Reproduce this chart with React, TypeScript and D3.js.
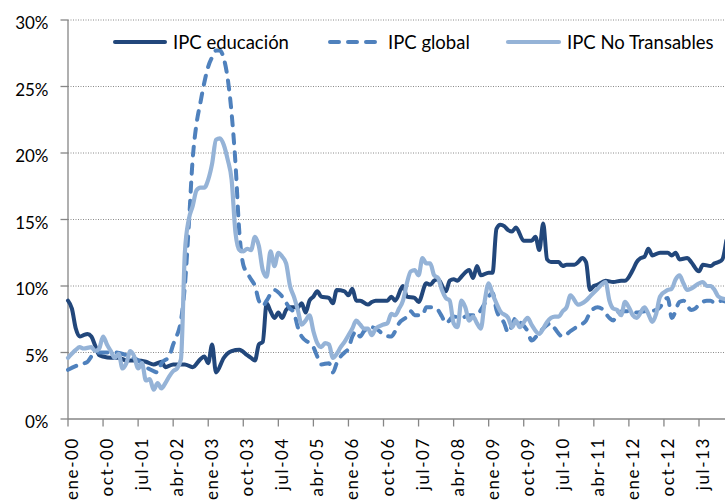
import React from "react";
import * as d3 from "d3";

// ---------- DATA ----------
const seriesNames = ["IPC educación", "IPC global", "IPC No Transables"];

const eduData: [string, number][] = [
  ["2000-01", 8.9], ["2000-02", 8.3], ["2000-03", 6.8], ["2000-04", 6.2], ["2000-05", 6.3], ["2000-06", 6.4],
  ["2000-07", 6.2], ["2000-08", 5.5], ["2000-09", 4.8], ["2000-10", 4.7], ["2000-12", 4.6], ["2001-02", 4.6],
  ["2001-04", 4.4], ["2001-07", 4.4], ["2001-09", 4.3], ["2001-11", 4.1], ["2002-01", 4.3], ["2002-02", 3.9],
  ["2002-04", 4.1], ["2002-07", 4.1], ["2002-09", 3.9], ["2002-11", 4.5], ["2002-12", 4.7], ["2003-01", 4.2],
  ["2003-02", 5.6], ["2003-03", 3.5], ["2003-05", 4.6], ["2003-07", 5.1], ["2003-09", 5.2], ["2003-11", 4.8],
  ["2003-12", 4.6], ["2004-01", 4.4], ["2004-02", 5.6], ["2004-03", 5.8], ["2004-04", 8.7], ["2004-05", 8.1],
  ["2004-06", 7.6], ["2004-07", 8.0], ["2004-08", 7.6], ["2004-09", 8.2], ["2004-10", 8.4], ["2004-12", 8.4],
  ["2005-01", 8.7], ["2005-02", 8.0], ["2005-03", 8.9], ["2005-04", 9.2], ["2005-05", 9.6], ["2005-06", 9.2],
  ["2005-08", 9.1], ["2005-09", 8.7], ["2005-10", 9.7], ["2005-12", 9.6], ["2006-01", 9.3], ["2006-02", 9.8],
  ["2006-03", 8.9], ["2006-04", 8.9], ["2006-06", 8.6], ["2006-07", 8.8], ["2006-08", 8.9], ["2006-10", 8.9],
  ["2006-11", 8.9], ["2006-12", 9.2], ["2007-01", 8.9], ["2007-03", 10.0], ["2007-04", 9.2], ["2007-06", 9.1],
  ["2007-07", 8.8], ["2007-09", 10.2], ["2007-10", 10.1], ["2007-11", 10.4], ["2007-12", 10.5], ["2008-02", 9.6],
  ["2008-03", 10.4], ["2008-04", 10.5], ["2008-05", 10.4], ["2008-06", 10.7], ["2008-08", 11.2], ["2008-09", 10.6],
  ["2008-10", 11.5], ["2008-11", 10.8], ["2009-01", 11.0], ["2009-02", 11.0], ["2009-03", 14.3], ["2009-04", 14.6],
  ["2009-05", 14.5], ["2009-06", 14.2], ["2009-07", 14.1], ["2009-08", 14.4], ["2009-10", 13.4], ["2009-12", 13.4],
  ["2010-01", 13.7], ["2010-02", 12.7], ["2010-03", 14.7], ["2010-04", 12.0], ["2010-05", 11.8], ["2010-07", 11.8],
  ["2010-08", 11.5], ["2010-09", 11.6], ["2010-11", 11.6], ["2010-12", 11.8], ["2011-01", 12.1], ["2011-02", 11.8],
  ["2011-03", 9.7], ["2011-04", 10.0], ["2011-05", 10.1], ["2011-07", 10.4], ["2011-09", 10.3], ["2011-11", 10.4],
  ["2011-12", 10.4], ["2012-02", 11.2], ["2012-03", 11.8], ["2012-04", 12.1], ["2012-05", 12.2], ["2012-06", 12.8],
  ["2012-07", 12.3], ["2012-09", 12.5], ["2012-11", 12.5], ["2012-12", 12.3], ["2013-01", 12.5], ["2013-02", 12.0],
  ["2013-04", 12.1], ["2013-05", 11.8], ["2013-07", 11.1], ["2013-08", 11.6], ["2013-10", 11.5], ["2013-11", 11.7],
  ["2013-12", 11.8], ["2014-01", 12.0], ["2014-02", 13.4],
];

const globalData: [string, number][] = [
  ["2000-01", 3.7], ["2000-04", 4.1], ["2000-06", 4.3], ["2000-07", 4.7], ["2000-09", 5.0], ["2001-01", 5.0],
  ["2001-04", 4.8], ["2001-07", 4.4], ["2001-09", 3.9], ["2001-11", 3.6], ["2001-12", 3.5], ["2002-01", 4.2],
  ["2002-03", 4.7], ["2002-04", 5.6], ["2002-05", 6.3], ["2002-06", 7.4], ["2002-07", 10.0], ["2002-08", 14.5],
  ["2002-09", 19.5], ["2002-10", 22.2], ["2002-11", 23.8], ["2002-12", 25.3], ["2003-01", 26.5], ["2003-02", 27.2],
  ["2003-03", 27.7], ["2003-04", 27.7], ["2003-05", 27.1], ["2003-06", 25.6], ["2003-07", 23.0], ["2003-08", 19.2],
  ["2003-09", 14.0], ["2003-10", 11.6], ["2003-11", 11.0], ["2003-12", 10.5], ["2004-01", 10.0], ["2004-02", 8.9],
  ["2004-03", 8.5], ["2004-04", 8.9], ["2004-05", 9.4], ["2004-06", 9.7], ["2004-08", 9.2], ["2004-10", 8.3],
  ["2004-11", 8.0], ["2004-12", 6.9], ["2005-01", 6.2], ["2005-03", 5.7], ["2005-04", 5.4], ["2005-05", 4.7],
  ["2005-06", 4.1], ["2005-08", 4.2], ["2005-09", 3.5], ["2005-10", 4.2], ["2005-11", 4.7], ["2005-12", 5.0],
  ["2006-01", 5.3], ["2006-02", 6.2], ["2006-03", 6.6], ["2006-04", 6.2], ["2006-05", 6.6], ["2006-07", 6.9],
  ["2006-09", 6.6], ["2006-10", 6.3], ["2006-12", 6.2], ["2007-01", 6.6], ["2007-02", 7.2], ["2007-04", 7.7],
  ["2007-05", 8.1], ["2007-06", 7.8], ["2007-08", 7.8], ["2007-09", 8.4], ["2007-11", 8.4], ["2007-12", 8.2],
  ["2008-01", 7.7], ["2008-02", 7.2], ["2008-04", 7.7], ["2008-06", 7.6], ["2008-08", 7.8], ["2008-10", 7.8],
  ["2008-11", 8.2], ["2008-12", 8.7], ["2009-01", 9.2], ["2009-02", 9.5], ["2009-03", 8.2], ["2009-05", 7.2],
  ["2009-06", 6.5], ["2009-08", 7.6], ["2009-09", 7.3], ["2009-11", 6.6], ["2009-12", 5.9], ["2010-02", 6.5],
  ["2010-05", 7.2], ["2010-06", 6.8], ["2010-08", 6.2], ["2010-10", 6.6], ["2010-12", 7.0], ["2011-02", 7.4],
  ["2011-03", 8.0], ["2011-05", 8.4], ["2011-06", 8.3], ["2011-08", 7.6], ["2011-09", 7.4], ["2011-10", 8.0],
  ["2011-12", 8.1], ["2012-01", 8.1], ["2012-03", 8.0], ["2012-05", 8.1], ["2012-06", 8.1], ["2012-08", 8.2],
  ["2012-09", 8.4], ["2012-10", 8.9], ["2012-11", 9.1], ["2012-12", 7.6], ["2013-02", 8.8], ["2013-03", 8.9],
  ["2013-05", 8.2], ["2013-06", 8.3], ["2013-07", 8.6], ["2013-09", 8.9], ["2013-10", 8.9], ["2013-11", 8.7],
  ["2014-01", 8.9], ["2014-02", 8.8],
];

const noTransData: [string, number][] = [
  ["2000-01", 4.6], ["2000-03", 5.2], ["2000-04", 5.4], ["2000-05", 5.3], ["2000-07", 5.4], ["2000-08", 5.1],
  ["2000-09", 5.3], ["2000-10", 6.2], ["2000-11", 5.6], ["2000-12", 5.1], ["2001-01", 4.6], ["2001-02", 4.9],
  ["2001-03", 3.8], ["2001-04", 4.2], ["2001-05", 5.1], ["2001-06", 4.7], ["2001-07", 3.8], ["2001-08", 4.2],
  ["2001-09", 2.9], ["2001-10", 3.0], ["2001-11", 2.2], ["2001-12", 2.7], ["2002-01", 2.3], ["2002-02", 2.7],
  ["2002-03", 3.2], ["2002-04", 3.6], ["2002-05", 3.8], ["2002-06", 4.5], ["2002-07", 12.5], ["2002-08", 15.0],
  ["2002-09", 16.0], ["2002-10", 17.2], ["2002-11", 17.4], ["2002-12", 17.4], ["2003-01", 18.0], ["2003-02", 19.2],
  ["2003-03", 21.0], ["2003-04", 21.1], ["2003-05", 20.6], ["2003-06", 19.5], ["2003-07", 18.0], ["2003-08", 14.0],
  ["2003-09", 12.7], ["2003-10", 12.6], ["2003-11", 12.8], ["2003-12", 12.7], ["2004-01", 13.7], ["2004-02", 13.0],
  ["2004-03", 11.2], ["2004-04", 10.7], ["2004-05", 12.6], ["2004-06", 11.5], ["2004-07", 12.5], ["2004-08", 12.2],
  ["2004-09", 11.7], ["2004-10", 10.0], ["2004-11", 9.2], ["2004-12", 8.2], ["2005-01", 7.1], ["2005-02", 7.4],
  ["2005-03", 7.8], ["2005-04", 6.6], ["2005-05", 5.7], ["2005-06", 5.4], ["2005-07", 5.7], ["2005-08", 5.6],
  ["2005-09", 4.6], ["2005-10", 4.9], ["2005-11", 5.4], ["2005-12", 5.8], ["2006-01", 6.3], ["2006-02", 6.8],
  ["2006-03", 7.4], ["2006-04", 7.1], ["2006-05", 6.8], ["2006-06", 6.8], ["2006-07", 6.3], ["2006-08", 6.8],
  ["2006-10", 7.1], ["2006-11", 7.2], ["2006-12", 7.9], ["2007-01", 7.8], ["2007-02", 8.3], ["2007-03", 8.9],
  ["2007-04", 10.2], ["2007-05", 11.1], ["2007-06", 11.2], ["2007-07", 10.8], ["2007-08", 12.1], ["2007-09", 11.7],
  ["2007-10", 11.7], ["2007-11", 10.8], ["2007-12", 10.6], ["2008-01", 9.7], ["2008-02", 9.1], ["2008-03", 8.9],
  ["2008-04", 7.2], ["2008-05", 6.9], ["2008-06", 8.9], ["2008-07", 8.4], ["2008-08", 7.4], ["2008-09", 7.7],
  ["2008-10", 7.2], ["2008-11", 6.8], ["2008-12", 8.9], ["2009-01", 10.2], ["2009-02", 9.4], ["2009-03", 8.7],
  ["2009-04", 8.1], ["2009-06", 7.6], ["2009-07", 6.9], ["2009-08", 7.4], ["2009-09", 6.9], ["2009-11", 7.6],
  ["2009-12", 7.1], ["2010-02", 6.4], ["2010-03", 6.8], ["2010-04", 7.3], ["2010-06", 7.7], ["2010-07", 7.7],
  ["2010-08", 8.1], ["2010-09", 8.4], ["2010-10", 9.3], ["2010-12", 8.6], ["2011-02", 8.9], ["2011-03", 9.2],
  ["2011-05", 9.8], ["2011-07", 10.3], ["2011-08", 8.9], ["2011-09", 8.3], ["2011-10", 8.2], ["2011-11", 7.8],
  ["2011-12", 8.8], ["2012-01", 8.4], ["2012-02", 7.8], ["2012-03", 7.6], ["2012-05", 8.4], ["2012-06", 7.9],
  ["2012-07", 7.3], ["2012-08", 7.9], ["2012-09", 9.2], ["2012-11", 9.7], ["2012-12", 9.8], ["2013-01", 10.5],
  ["2013-02", 10.8], ["2013-03", 10.2], ["2013-04", 9.7], ["2013-05", 9.8], ["2013-07", 10.2], ["2013-08", 10.3],
  ["2013-09", 10.0], ["2013-10", 10.0], ["2013-11", 9.7], ["2013-12", 9.2], ["2014-02", 9.0],
];

const yTicks = [0, 5, 10, 15, 20, 25, 30];
const xTickLabels = [
  "ene-00", "oct-00", "jul-01", "abr-02", "ene-03", "oct-03", "jul-04", "abr-05", "ene-06", "oct-06",
  "jul-07", "abr-08", "ene-09", "oct-09", "jul-10", "abr-11", "ene-12", "oct-12", "jul-13",
];
const xTickStepMonths = 9;

// ---------- STYLE ----------
const W = 725;
const H = 503;
const FONT = "Lato, 'Open Sans', sans-serif";
const colors = ["#22477b", "#4f81bd", "#95b3d7"];
const axisColor = "#868686";

const monthIndex = (s: string) => {
  const [yy, mm] = s.split("-").map(Number);
  return (yy - 2000) * 12 + (mm - 1);
};

export default function App() {
  const lastTick = (xTickLabels.length - 1) * xTickStepMonths;
  const x = d3.scaleLinear().domain([0, lastTick]).range([68, 699]);
  const y = d3.scaleLinear().domain([0, 30]).range([419, 20]);
  const plotRight = W;

  const line = d3
    .line<[string, number]>()
    .x((d) => x(monthIndex(d[0])))
    .y((d) => y(d[1]))
    .curve(d3.curveMonotoneX);

  const series = [eduData, globalData, noTransData];
  const dashes = [undefined, "9 9", undefined];
  const widths = [4, 4, 4.2];

  const legendItems = [
    { lx0: 113, lx1: 167, tx: 173 },
    { lx0: 328, lx1: 377, tx: 388 },
    { lx0: 506, lx1: 561, tx: 567 },
  ];

  return (
    <svg
      width={W}
      height={H}
      style={{ position: "absolute", left: 0, top: 0, background: "#fff" }}
      fontFamily={FONT}
    >
      <rect x={0} y={0} width={W} height={H} fill="#fff" />
      {/* gridlines */}
      {yTicks
        .filter((t) => t > 0)
        .map((t) => (
          <line
            key={"g" + t}
            x1={x(0)}
            x2={plotRight}
            y1={y(t)}
            y2={y(t)}
            stroke="#8a8a8a"
            strokeWidth={1}
            strokeDasharray="1 1.5"
          />
        ))}
      {/* y axis */}
      <line x1={x(0)} x2={x(0)} y1={y(30)} y2={y(0)} stroke={axisColor} strokeWidth={1.3} />
      {yTicks.map((t) => (
        <g key={"yt" + t}>
          <line x1={x(0) - 7.5} x2={x(0)} y1={y(t)} y2={y(t)} stroke={axisColor} strokeWidth={1.3} />
          <text x={48.5} y={y(t) + 9} textAnchor="end" fontSize={17} fill="#000">
            {t}%
          </text>
        </g>
      ))}
      {/* x axis */}
      <line x1={x(0)} x2={plotRight} y1={y(0)} y2={y(0)} stroke={axisColor} strokeWidth={1.3} />
      {xTickLabels.map((lab, i) => {
        const xx = x(i * xTickStepMonths);
        return (
          <g key={"xt" + lab}>
            <line x1={xx} x2={xx} y1={y(0)} y2={y(0) + 7.5} stroke={axisColor} strokeWidth={1.3} />
            <text
              transform={`translate(${xx + 10},437) rotate(-90)`}
              textAnchor="end"
              fontSize={17}
              letterSpacing={1.6}
              fill="#000"
            >
              {lab}
            </text>
          </g>
        );
      })}
      {/* lines */}
      {series.map((s, i) => (
        <path
          key={"s" + i}
          d={line(s) || ""}
          fill="none"
          stroke={colors[i]}
          strokeWidth={widths[i]}
          strokeDasharray={dashes[i]}
          strokeLinecap="round"
          strokeLinejoin="round"
        />
      ))}
      {/* legend */}
      {seriesNames.map((name, i) => {
        const it = legendItems[i];
        return (
          <g key={"lg" + i}>
            <line
              x1={it.lx0 + 2}
              x2={it.lx1 - 2}
              y1={42}
              y2={42}
              stroke={colors[i]}
              strokeWidth={widths[i]}
              strokeDasharray={dashes[i]}
              strokeLinecap="round"
            />
            <text x={it.tx} y={49.3} fontSize={18.5} fill="#000">
              {name}
            </text>
          </g>
        );
      })}
    </svg>
  );
}
